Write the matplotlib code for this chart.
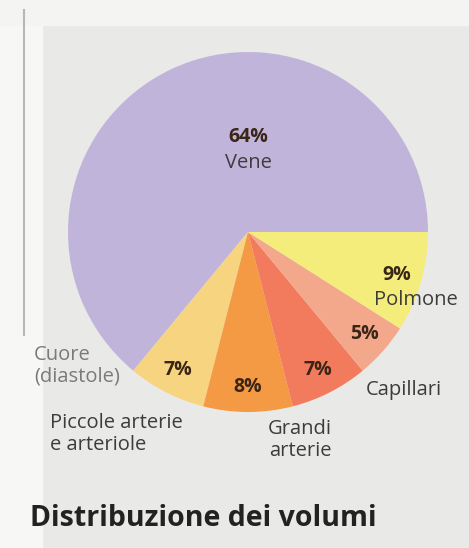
import matplotlib.pyplot as plt
from matplotlib.patches import Rectangle

# volume distribution (percent)
labels = ['Vene', 'Cuore\n(diastole)', 'Piccole arterie\ne arteriole', 'Grandi\narterie', 'Capillari', 'Polmone']
values = [64, 7, 8, 7, 5, 9]
colors = ['#c1b4db', '#f7d47f', '#f49a44', '#f37b5d', '#f4a88b', '#f4ec7b']

W, H = 469, 548
fig = plt.figure(figsize=(W / 100, H / 100), dpi=100)
fig.patch.set_facecolor('#e9e9e7')
ax = fig.add_axes([0, 0, 1, 1])

# white page margin on the left and the faint rule
ax.add_patch(Rectangle((0, 0), 42, H, color='#f7f7f6', zorder=0))
ax.add_patch(Rectangle((0, H - 25), W, 25, color='#f4f4f3', zorder=0))
ax.plot([24, 24], [H - 10, H - 335], color='#b5b8b8', lw=1.5, zorder=1)

font = 'Open Sans'
pct_col = '#3a2616'
lab_col = '#3c3c3c'

cx, cy = 248, H - 232
wedges, names, pcts = ax.pie(values, colors=colors, startangle=0, counterclock=True,
                             center=(cx, cy), radius=180, frame=True,
                             autopct=lambda p: f'{round(p)}%', pctdistance=0.86,
                             wedgeprops=dict(linewidth=0),
                             textprops=dict(fontsize=14, fontweight='bold',
                                            color=pct_col, family=font))
ax.set_xlim(0, W)
ax.set_ylim(0, H)
ax.set_aspect('equal')
ax.axis('off')

# the big slice carries its number higher up, above its name
pcts[0].set_position((248, H - 137))

def lab(x, y, s, ha='left', col=lab_col):
    ax.text(x, H - y, s, ha=ha, va='center', fontsize=14.5, color=col, family=font,
            linespacing=1.1)

lab(248, 163, labels[0], ha='center')
lab(374, 300, labels[5])
lab(366, 390, labels[4])
lab(300, 440, labels[3], ha='center')
lab(50, 434, labels[2])
lab(34, 366, labels[1], col='#7a7a7a')

ax.text(203, H - 518, 'Distribuzione dei volumi', ha='center', va='center',
        fontsize=20.5, fontweight='bold', color='#222222', family=font)

fig.savefig('out.png', dpi=100, facecolor=fig.get_facecolor())
